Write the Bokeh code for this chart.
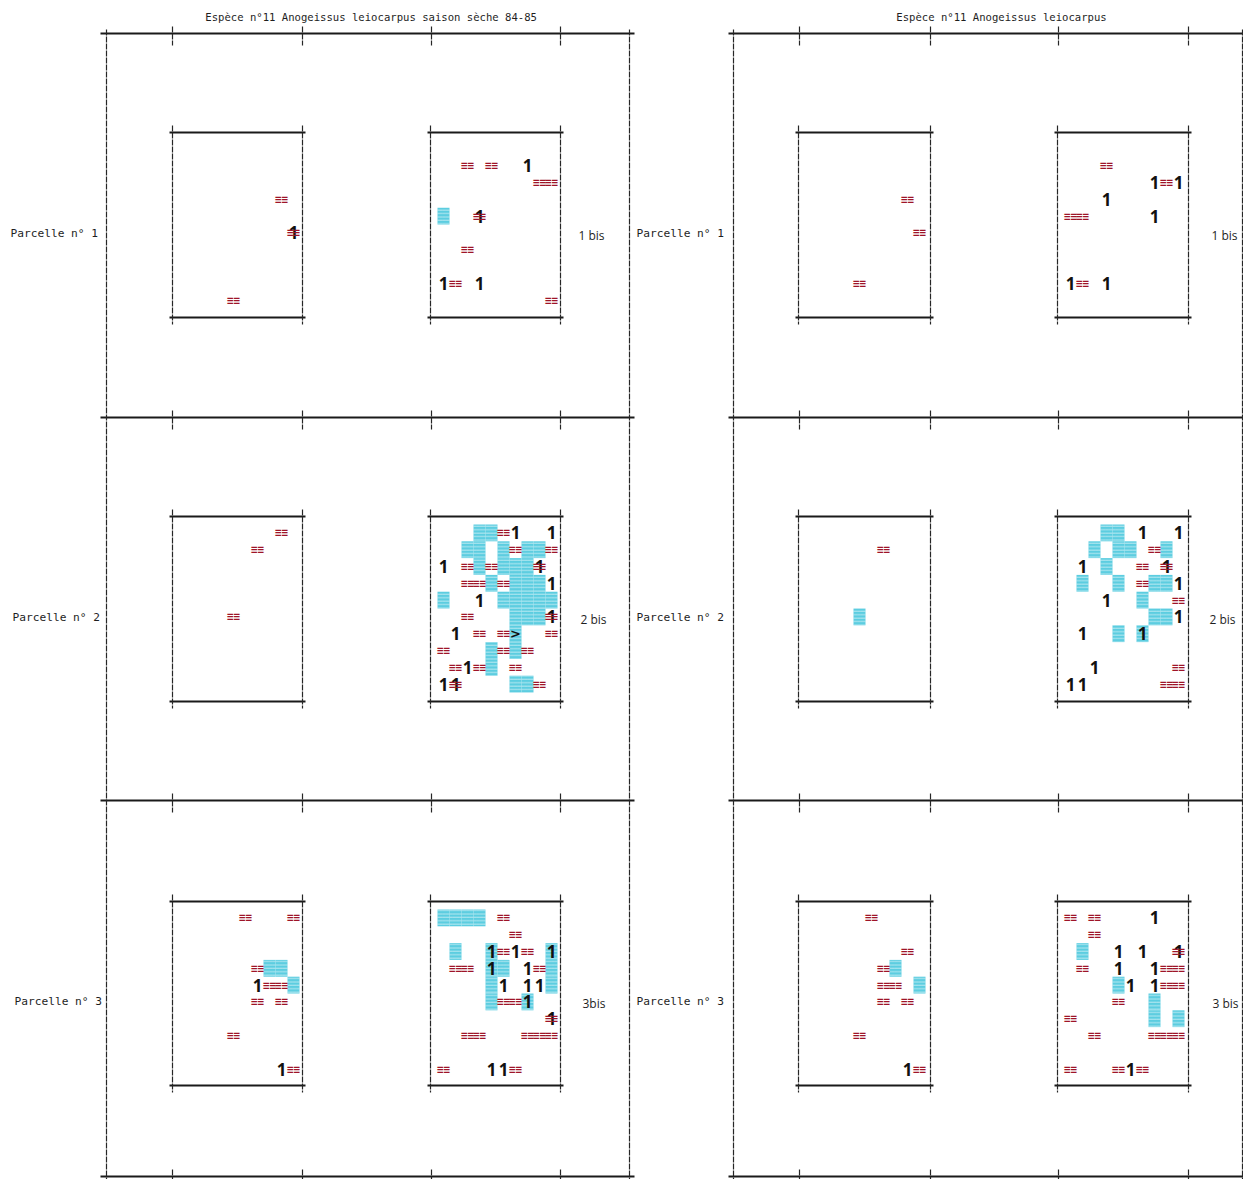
from bokeh.plotting import figure
from bokeh.models import Range1d
from bokeh.embed import file_html
from bokeh.resources import INLINE
from bokeh.core.properties import value

# ---------------- texts ----------------
TITLES = ["Espèce n°11 Anogeissus leiocarpus   saison sèche 84-85",
          "Espèce n°11 Anogeissus leiocarpus"]
ROW_LABELS = ["Parcelle n°  1", "Parcelle n°  2", "Parcelle n°  3"]
BIS_LABELS = [["1 bis", "2 bis", "3bis"], ["1 bis", "2 bis", "3 bis"]]

# ---------------- data: (column, row) cells on a 10 x 10 grid ----------------
# Left panel (saison sèche 84-85)
L1_EQ = [(8, 3), (9, 5), (4, 9)]
L1_ONE = [(9, 5)]
L1_CYAN = []
L1B_EQ = [(2, 1), (4, 1), (8, 2), (9, 2), (3, 4), (2, 6), (1, 8), (9, 9)]
L1B_ONE = [(7, 1), (3, 4), (0, 8), (3, 8)]
L1B_CYAN = [(0, 4)]
L2_EQ = [(8, 0), (6, 1), (4, 5)]
L2_ONE = []
L2_CYAN = []
L2B_EQ = [(5, 0), (6, 1), (9, 1), (2, 2), (4, 2), (8, 2), (2, 3), (3, 3), (5, 3),
          (2, 5), (9, 5), (3, 6), (5, 6), (9, 6), (0, 7), (5, 7), (7, 7),
          (1, 8), (3, 8), (6, 8), (1, 9), (8, 9)]
L2B_ONE = [(6, 0), (9, 0), (0, 2), (8, 2), (9, 3), (3, 4), (9, 5), (1, 6),
           (2, 8), (0, 9), (1, 9)]
L2B_MARK = [(6, 6)]
L2B_CYAN = [(3, 0), (4, 0), (2, 1), (3, 1), (5, 1), (7, 1), (8, 1),
            (3, 2), (5, 2), (6, 2), (7, 2), (4, 3), (6, 3), (7, 3), (8, 3),
            (0, 4), (5, 4), (6, 4), (7, 4), (8, 4), (9, 4), (6, 5), (7, 5), (8, 5),
            (6, 6), (4, 7), (6, 7), (4, 8), (6, 9), (7, 9)]
L3_EQ = [(5, 0), (9, 0), (6, 3), (7, 4), (8, 4), (6, 5), (8, 5), (4, 7), (9, 9)]
L3_ONE = [(6, 4), (8, 9)]
L3_CYAN = [(7, 3), (8, 3), (9, 4)]
L3B_EQ = [(5, 0), (6, 1), (5, 2), (7, 2), (1, 3), (2, 3), (8, 3), (5, 5), (6, 5),
          (9, 6), (2, 7), (3, 7), (7, 7), (8, 7), (9, 7), (0, 9), (6, 9)]
L3B_ONE = [(4, 2), (6, 2), (9, 2), (4, 3), (7, 3), (5, 4), (7, 4), (8, 4), (7, 5),
           (9, 6), (4, 9), (5, 9)]
L3B_CYAN = [(0, 0), (1, 0), (2, 0), (3, 0), (1, 2), (4, 2), (9, 2), (4, 3), (5, 3),
            (9, 3), (4, 4), (9, 4), (4, 5), (7, 5)]

# Right panel
R1_EQ = [(8, 3), (9, 5), (4, 8)]
R1_ONE = []
R1_CYAN = []
R1B_EQ = [(3, 1), (8, 2), (0, 4), (1, 4), (1, 8)]
R1B_ONE = [(7, 2), (9, 2), (3, 3), (7, 4), (0, 8), (3, 8)]
R1B_CYAN = []
R2_EQ = [(6, 1)]
R2_ONE = []
R2_CYAN = [(4, 5)]
R2B_EQ = [(7, 1), (6, 2), (8, 2), (6, 3), (9, 4), (9, 8), (8, 9), (9, 9)]
R2B_ONE = [(6, 0), (9, 0), (1, 2), (8, 2), (9, 3), (3, 4), (9, 5), (1, 6), (6, 6),
           (2, 8), (0, 9), (1, 9)]
R2B_CYAN = [(3, 0), (4, 0), (2, 1), (4, 1), (5, 1), (8, 1), (3, 2), (1, 3), (4, 3),
            (7, 3), (8, 3), (6, 4), (7, 5), (8, 5), (4, 6), (6, 6)]
R3_EQ = [(5, 0), (8, 2), (6, 3), (6, 4), (7, 4), (6, 5), (8, 5), (4, 7), (9, 9)]
R3_ONE = [(8, 9)]
R3_CYAN = [(7, 3), (9, 4)]
R3B_EQ = [(0, 0), (2, 0), (2, 1), (9, 2), (1, 3), (8, 3), (9, 3), (8, 4), (9, 4),
          (4, 5), (0, 6), (2, 7), (7, 7), (8, 7), (9, 7), (0, 9), (4, 9), (6, 9)]
R3B_ONE = [(7, 0), (4, 2), (6, 2), (9, 2), (4, 3), (7, 3), (5, 4), (7, 4), (5, 9)]
R3B_CYAN = [(1, 2), (4, 4), (7, 5), (7, 6), (9, 6)]

# (panel, row, bis, eq, ones, cyan)
PARCELS = [
    (0, 0, 0, L1_EQ, L1_ONE, L1_CYAN), (0, 0, 1, L1B_EQ, L1B_ONE, L1B_CYAN),
    (0, 1, 0, L2_EQ, L2_ONE, L2_CYAN), (0, 1, 1, L2B_EQ, L2B_ONE, L2B_CYAN),
    (0, 2, 0, L3_EQ, L3_ONE, L3_CYAN), (0, 2, 1, L3B_EQ, L3B_ONE, L3B_CYAN),
    (1, 0, 0, R1_EQ, R1_ONE, R1_CYAN), (1, 0, 1, R1B_EQ, R1B_ONE, R1B_CYAN),
    (1, 1, 0, R2_EQ, R2_ONE, R2_CYAN), (1, 1, 1, R2B_EQ, R2B_ONE, R2B_CYAN),
    (1, 2, 0, R3_EQ, R3_ONE, R3_CYAN), (1, 2, 1, R3B_EQ, R3B_ONE, R3B_CYAN),
]

# ---------------- layout (page coordinates) ----------------
FRAME_X = [(106, 629), (733, 1242)]
LINE_X = [(100, 634), (728, 1243)]
TOP_Y = 33
SEP_Y = [TOP_Y, 417, 800, 1176]
TICK_X = [[172, 302, 431, 560], [799, 930, 1058, 1188]]
RECT_X = [[(172, 302), (430, 560)], [(798, 930), (1057, 1188)]]
RECT_Y = [(132, 317), (516, 701), (901, 1085)]
CELL_W, CELL_H, PAD_X, PAD_Y = 12.0, 16.8, 7.0, 8.0
TITLE_X = [377, 1001]
LABEL_X = [10, 636]
BIS_X = [[578, 580, 582], [1211, 1209, 1212]]

W, H = 1243, 1179
p = figure(width=W, height=H, x_range=Range1d(0, W), y_range=Range1d(H, 0),
           output_backend="svg", toolbar_location=None, min_border=0)
p.axis.visible = False
p.grid.visible = False
p.outline_line_color = None
p.background_fill_color = "white"
p.border_fill_color = "white"


def centers(panel, row, bis, cells):
    x0 = RECT_X[panel][bis][0]
    y0 = RECT_Y[row][0]
    xs = [x0 + PAD_X + CELL_W * (c + 0.5) for c, r in cells]
    ys = [y0 + PAD_Y + CELL_H * (r + 0.5) for c, r in cells]
    return xs, ys


# frames
hx0, hx1, hy = [], [], []
vx, vy0, vy1 = [], [], []
for pi in range(2):
    for y in SEP_Y:
        hx0.append(LINE_X[pi][0]); hx1.append(LINE_X[pi][1]); hy.append(y)
    for x in FRAME_X[pi]:
        vx.append(x); vy0.append(TOP_Y - 4); vy1.append(1200)
    for x in TICK_X[pi]:
        for y in SEP_Y:
            vx.append(x); vy0.append(y - 7); vy1.append(y + 12)
    for row in range(3):
        for bis in range(2):
            xa, xb = RECT_X[pi][bis]
            ya, yb = RECT_Y[row]
            for y in (ya, yb):
                hx0.append(xa - 3); hx1.append(xb + 3); hy.append(y)
            for x in (xa, xb):
                vx.append(x); vy0.append(ya - 7); vy1.append(yb + 7)

p.segment(x0=hx0, y0=hy, x1=hx1, y1=hy, line_color="#1a1a1a", line_width=1.8)
p.segment(x0=vx, y0=vy0, x1=vx, y1=vy1, line_color="#262626", line_width=1.2,
          line_dash="6 1")

# markers
for pi, row, bis, eq, ones, cyan in PARCELS:
    if cyan:
        xs, ys = centers(pi, row, bis, cyan)
        p.rect(x=xs, y=ys, width=CELL_W, height=CELL_H, fill_color="#5ccde0",
               line_color=None, hatch_pattern="horizontal_line", hatch_color="white",
               hatch_scale=3.4, hatch_weight=0.8, hatch_alpha=0.7)
    if ones:
        xs, ys = centers(pi, row, bis, ones)
        p.text(x=xs, y=ys, text=["1"] * len(xs), text_font=value("Open Sans"),
               text_font_style="bold", text_font_size="17px", text_color="#111111",
               text_align="center", text_baseline="middle")
    if eq:
        xs, ys = centers(pi, row, bis, eq)
        p.text(x=xs, y=ys, text=["≡≡"] * len(xs), text_font=value("DejaVu Sans Mono"),
               text_font_size="11px", text_font_style="bold", text_color="#9e1428",
               text_align="center", text_baseline="middle")

xs, ys = centers(0, 1, 1, L2B_MARK)
p.text(x=xs, y=ys, text=[">"] * len(xs), text_font=value("DejaVu Sans"),
       text_font_style="bold", text_font_size="13px", text_color="#111111",
       text_align="center", text_baseline="middle")

# texts
p.text(x=TITLE_X, y=[16, 16], text=TITLES, text_font=value("DejaVu Sans Mono"),
       text_font_size="10.6px", text_color="#1e1e1e", text_align="center",
       text_baseline="middle")
lx, ly, lt = [], [], []
bx, by, bt = [], [], []
for pi in range(2):
    for row in range(3):
        cy = (RECT_Y[row][0] + RECT_Y[row][1]) / 2 + 8
        lx.append(LABEL_X[pi] + (2 * row if pi == 0 else 0)); ly.append(cy); lt.append(ROW_LABELS[row])
        bx.append(BIS_X[pi][row]); by.append(cy + 2); bt.append(BIS_LABELS[pi][row])
p.text(x=lx, y=ly, text=lt, text_font=value("DejaVu Sans Mono"), text_font_size="11.2px",
       text_color="#1e1e1e", text_align="left", text_baseline="middle")
p.text(x=bx, y=by, text=bt, text_font=value("Open Sans"), text_font_size="12px",
       text_color="#1e1e1e", text_align="left", text_baseline="middle")

open("out.html", "w").write(file_html(p, INLINE))
